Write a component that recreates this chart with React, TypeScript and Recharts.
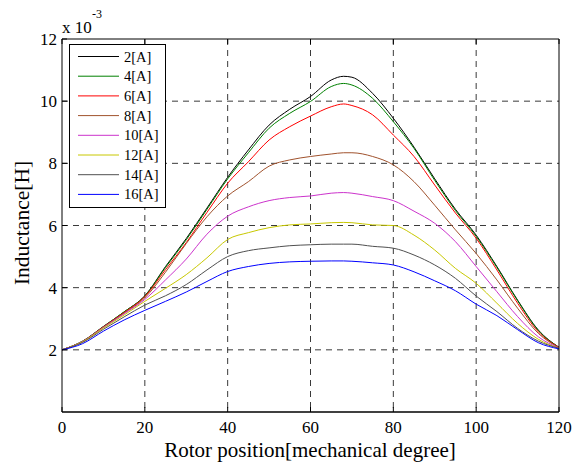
import React from "react";
import { LineChart, Line, XAxis, YAxis, CartesianGrid } from "recharts";

const positions = [0, 5, 10, 15, 20, 25, 30, 35, 40, 45, 50, 55, 60, 65, 68, 70, 75, 80, 85, 90, 95, 100, 105, 110, 115, 120];
const i2A = [2.0, 2.28, 2.75, 3.22, 3.74, 4.68, 5.58, 6.56, 7.55, 8.43, 9.23, 9.74, 10.15, 10.68, 10.8, 10.77, 10.25, 9.45, 8.52, 7.5, 6.52, 5.69, 4.68, 3.6, 2.64, 2.08];
const i4A = [2.0, 2.28, 2.75, 3.22, 3.73, 4.65, 5.54, 6.52, 7.5, 8.34, 9.13, 9.61, 9.99, 10.47, 10.57, 10.52, 10.09, 9.34, 8.48, 7.45, 6.48, 5.65, 4.65, 3.58, 2.62, 2.08];
const i6A = [2.0, 2.27, 2.74, 3.2, 3.71, 4.58, 5.45, 6.42, 7.36, 8.05, 8.75, 9.18, 9.52, 9.82, 9.91, 9.86, 9.56, 8.91, 8.22, 7.3, 6.4, 5.59, 4.57, 3.5, 2.58, 2.08];
const i8A = [2.0, 2.27, 2.73, 3.18, 3.67, 4.5, 5.42, 6.28, 6.95, 7.41, 7.91, 8.11, 8.22, 8.3, 8.34, 8.34, 8.22, 7.95, 7.41, 6.65, 5.86, 5.1, 4.25, 3.34, 2.53, 2.07];
const i10A = [2.0, 2.27, 2.72, 3.16, 3.62, 4.25, 4.92, 5.72, 6.3, 6.6, 6.8, 6.9, 6.95, 7.04, 7.06, 7.04, 6.93, 6.8, 6.46, 6.07, 5.48, 4.68, 3.87, 3.07, 2.42, 2.06];
const i12A = [2.0, 2.26, 2.7, 3.12, 3.56, 3.98, 4.42, 4.96, 5.55, 5.77, 5.93, 6.02, 6.05, 6.09, 6.1, 6.09, 6.02, 6.0, 5.69, 5.21, 4.62, 4.14, 3.5, 2.85, 2.34, 2.05];
const i14A = [2.0, 2.24, 2.66, 3.06, 3.44, 3.74, 4.1, 4.57, 5.0, 5.19, 5.28, 5.35, 5.38, 5.4, 5.4, 5.4, 5.33, 5.27, 5.05, 4.73, 4.3, 3.73, 3.23, 2.69, 2.28, 2.05];
const i16A = [2.0, 2.2, 2.6, 2.96, 3.27, 3.56, 3.86, 4.2, 4.52, 4.68, 4.78, 4.83, 4.85, 4.86, 4.86, 4.85, 4.8, 4.73, 4.51, 4.22, 3.9, 3.47, 3.1, 2.65, 2.23, 2.03];

const xTicks = [0, 20, 40, 60, 80, 100, 120];
const yTicks = [2, 4, 6, 8, 10, 12];

const seriesList = [
  { key: "s2", name: "2[A]", values: i2A, color: "#000000" },
  { key: "s4", name: "4[A]", values: i4A, color: "#008000" },
  { key: "s6", name: "6[A]", values: i6A, color: "#ff0000" },
  { key: "s8", name: "8[A]", values: i8A, color: "#a0522d" },
  { key: "s10", name: "10[A]", values: i10A, color: "#cc33cc" },
  { key: "s12", name: "12[A]", values: i12A, color: "#c8c800" },
  { key: "s14", name: "14[A]", values: i14A, color: "#505050" },
  { key: "s16", name: "16[A]", values: i16A, color: "#0000ff" },
];

const data = positions.map((p, i) => {
  const row: Record<string, number> = { pos: p };
  seriesList.forEach((s) => {
    row[s.key] = s.values[i];
  });
  return row;
});

const FONT = "'Liberation Serif', 'Times New Roman', serif";
const TICK_LEN = 5;

// Plot area: x 62..559, y 39..412
const LEFT_W = 40;
const BOTTOM_H = 40;

const BottomTick = (props: any) => {
  const { x, payload } = props;
  const y0 = 412;
  return (
    <g>
      <line x1={x} y1={y0} x2={x} y2={y0 - TICK_LEN} stroke="#000" strokeWidth={1} />
      <text x={x} y={y0 + 20.5} textAnchor="middle" fontFamily={FONT} fontSize={17} fill="#000">
        {payload.value}
      </text>
    </g>
  );
};

const TopTick = (props: any) => {
  const { x } = props;
  return <line x1={x} y1={39} x2={x} y2={39 + TICK_LEN} stroke="#000" strokeWidth={1} />;
};

const LeftTick = (props: any) => {
  const { y, payload } = props;
  const x0 = 62;
  return (
    <g>
      <line x1={x0} y1={y} x2={x0 + TICK_LEN} y2={y} stroke="#000" strokeWidth={1} />
      <text x={x0 - 5} y={y + 6} textAnchor="end" fontFamily={FONT} fontSize={17} fill="#000">
        {payload.value}
      </text>
    </g>
  );
};

const RightTick = (props: any) => {
  const { y } = props;
  return <line x1={559} y1={y} x2={559 - TICK_LEN} y2={y} stroke="#000" strokeWidth={1} />;
};

const LEG_X = 69;
const LEG_Y = 44;
const LEG_W = 96;
const LEG_H = 163;

export default function App() {
  return (
    <div style={{ position: "absolute", left: 0, top: 0, width: 581, height: 462, background: "#fff" }}>
      <LineChart
        width={581}
        height={462}
        data={data}
        margin={{ top: 38, right: 21, bottom: 50 - BOTTOM_H, left: 62 - LEFT_W }}
      >
        <CartesianGrid
          stroke="#3a3a3a"
          strokeDasharray="6 5"
          strokeWidth={1}
          horizontalValues={[2, 4, 6, 8, 10]}
          verticalValues={[20, 40, 60, 80, 100]}
        />
        <XAxis
          dataKey="pos"
          type="number"
          domain={[0, 120]}
          ticks={xTicks}
          height={BOTTOM_H}
          axisLine={{ stroke: "#000", strokeWidth: 1.3 }}
          tickLine={false}
          tick={<BottomTick />}
          interval={0}
        />
        <XAxis
          xAxisId="top"
          orientation="top"
          dataKey="pos"
          type="number"
          domain={[0, 120]}
          ticks={xTicks}
          height={1}
          axisLine={{ stroke: "#000", strokeWidth: 1 }}
          tickLine={false}
          tick={<TopTick />}
          interval={0}
        />
        <YAxis
          type="number"
          domain={[0, 12]}
          ticks={yTicks}
          width={LEFT_W}
          axisLine={{ stroke: "#000", strokeWidth: 1 }}
          tickLine={false}
          tick={<LeftTick />}
          interval={0}
        />
        <YAxis
          yAxisId="right"
          orientation="right"
          type="number"
          domain={[0, 12]}
          ticks={yTicks}
          width={1}
          axisLine={{ stroke: "#000", strokeWidth: 1 }}
          tickLine={false}
          tick={<RightTick />}
          interval={0}
        />
        {seriesList.map((s) => (
          <Line
            key={s.key}
            dataKey={s.key}
            name={s.name}
            type="monotone"
            stroke={s.color}
            strokeWidth={1}
            dot={false}
            activeDot={false}
            isAnimationActive={false}
          />
        ))}
        <g>
          <rect x={LEG_X + 0.5} y={LEG_Y + 0.5} width={LEG_W} height={LEG_H} fill="#fff" stroke="#000" strokeWidth={1} />
          {seriesList.map((s, i) => {
            const cy = LEG_Y + 12.5 + i * 19.7;
            return (
              <g key={s.key}>
                <line x1={LEG_X + 9} y1={cy} x2={LEG_X + 50} y2={cy} stroke={s.color} strokeWidth={1} />
                <text x={LEG_X + 55} y={cy + 5} fontFamily={FONT} fontSize={14.5} fill="#000">
                  {s.name}
                </text>
              </g>
            );
          })}
        </g>
        <text x={62} y={33} fontFamily={FONT} fontSize={17} fill="#000">
          x 10
        </text>
        <text x={92} y={18} fontFamily={FONT} fontSize={12} fill="#000">
          -3
        </text>
        <text x={310} y={457} textAnchor="middle" fontFamily={FONT} fontSize={21} fill="#000">
          Rotor position[mechanical degree]
        </text>
        <text
          x={29}
          y={223}
          textAnchor="middle"
          fontFamily={FONT}
          fontSize={21.5}
          fill="#000"
          transform="rotate(-90 29 223)"
        >
          Inductance[H]
        </text>
      </LineChart>
    </div>
  );
}
